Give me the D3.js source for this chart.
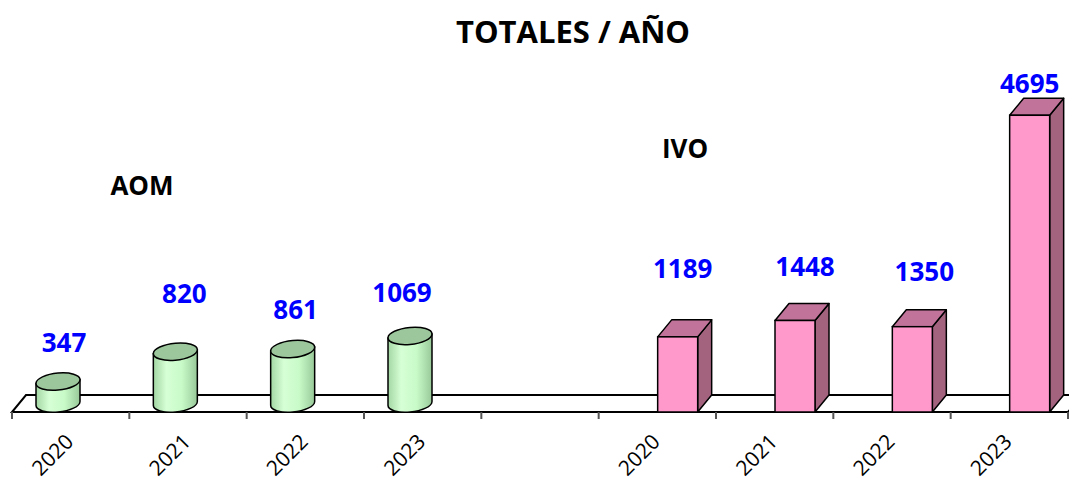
<!DOCTYPE html>
<html>
<head>
  <meta charset="utf-8">
  <script src="https://cdn.jsdelivr.net/npm/d3@7"></script>
  <style>
    body, html { margin: 0; padding: 0; background: white; overflow: hidden; }
    svg { display: block; font-family: 'Open Sans', sans-serif; }
  </style>
</head>
<body>
  <svg id="chart" width="1069" height="477"></svg>
  <script>
    // data
    const years = ["2020", "2021", "2022", "2023"];
    const aomValues = [347, 820, 861, 1069];
    const ivoValues = [1189, 1448, 1350, 4695];
    const groups = ["AOM", "IVO"];

    // label nudges (px), style only: [dx, lift above shape top]
    const aomLabelNudge = [[6, 21], [9, 40], [3, 22], [-8, 25]];
    const ivoLabelNudge = [[5, 42], [10, 27], [12, 29], [0, 5]];

    const svg = d3.select('#chart');
    const baseY = 412;
    const depthX = 14, depthY = -17;

    // 9 slots: 4 AOM, one empty, 4 IVO
    const slots = [];
    years.forEach((y, i) => slots.push({ key: "AOM" + y, year: y, group: "AOM", value: aomValues[i], nudge: aomLabelNudge[i] }));
    slots.push({ key: "gap", year: "", group: null });
    years.forEach((y, i) => slots.push({ key: "IVO" + y, year: y, group: "IVO", value: ivoValues[i], nudge: ivoLabelNudge[i] }));

    const x = d3.scaleBand().domain(slots.map(d => d.key)).range([12, 1068]).padding(0);
    const y = d3.scaleLinear().domain([0, 5000]).range([baseY, 96]);

    const defs = svg.append('defs');
    const grad = defs.append('linearGradient').attr('id', 'cyl').attr('x1', '0%').attr('x2', '100%');
    grad.append('stop').attr('offset', '0%').attr('stop-color', '#a3d6a3');
    grad.append('stop').attr('offset', '30%').attr('stop-color', '#d6ffd6');
    grad.append('stop').attr('offset', '65%').attr('stop-color', '#c8fac8');
    grad.append('stop').attr('offset', '100%').attr('stop-color', '#98c898');

    // title
    svg.append('text')
      .attr('x', 573).attr('y', 43)
      .attr('text-anchor', 'middle')
      .attr('font-size', 31).attr('font-weight', 'bold')
      .text('TOTALES / AÑO');

    // floor
    const x0 = x.range()[0], x1 = x.range()[1];
    svg.append('path')
      .attr('d', `M ${x0} ${baseY} L ${x1} ${baseY} L ${x1 + depthX} ${baseY + depthY} L ${x0 + depthX} ${baseY + depthY} Z`)
      .attr('fill', 'white').attr('stroke', 'black').attr('stroke-width', 2);

    // ticks at band boundaries
    const bounds = slots.map(d => x(d.key)).concat([x1]);
    svg.selectAll('.tick').data(bounds).join('line')
      .attr('class', 'tick')
      .attr('x1', d => d).attr('x2', d => d)
      .attr('y1', baseY).attr('y2', baseY + 7)
      .attr('stroke', '#555').attr('stroke-width', 2);

    // tick labels
    svg.selectAll('.xlabel').data(slots.filter(d => d.year)).join('text')
      .attr('class', 'xlabel')
      .attr('transform', d => `translate(${x(d.key) + x.bandwidth() / 2 + 4}, 443) rotate(-45)`)
      .attr('text-anchor', 'end')
      .attr('font-size', 21)
      .text(d => d.year);

    // AOM cylinders
    const rx = 22, ry = 8.5;
    const aom = slots.filter(d => d.group === "AOM");
    const cyl = svg.selectAll('.cyl').data(aom).join('g')
      .attr('class', 'cyl')
      .attr('transform', d => `translate(${x(d.key) + 24 + rx}, 0) skewY(-5)`);
    cyl.append('path')
      .attr('d', d => {
        const yt = y(d.value) - ry, yb = baseY - ry;
        return `M ${-rx} ${yt} L ${-rx} ${yb} A ${rx} ${ry} 0 0 0 ${rx} ${yb} L ${rx} ${yt} Z`;
      })
      .attr('fill', 'url(#cyl)').attr('stroke', 'black').attr('stroke-width', 1.5);
    cyl.append('ellipse')
      .attr('cx', 0).attr('cy', d => y(d.value) - ry)
      .attr('rx', rx).attr('ry', ry)
      .attr('fill', '#9cc79c').attr('stroke', 'black').attr('stroke-width', 1.5);

    // IVO 3D bars
    const ivo = slots.filter(d => d.group === "IVO");
    const bw = 40;
    const bar = svg.selectAll('.bar3d').data(ivo).join('g').attr('class', 'bar3d');
    bar.append('path') // side
      .attr('d', d => {
        const bx = x(d.key) + 59 + bw, ty = y(d.value);
        return `M ${bx} ${baseY} L ${bx + depthX} ${baseY + depthY} L ${bx + depthX} ${ty + depthY} L ${bx} ${ty} Z`;
      })
      .attr('fill', '#a3637f').attr('stroke', 'black').attr('stroke-width', 1.5).attr('stroke-linejoin', 'round');
    bar.append('path') // top
      .attr('d', d => {
        const bx = x(d.key) + 59, ty = y(d.value);
        return `M ${bx} ${ty} L ${bx + depthX} ${ty + depthY} L ${bx + bw + depthX} ${ty + depthY} L ${bx + bw} ${ty} Z`;
      })
      .attr('fill', '#c1739a').attr('stroke', 'black').attr('stroke-width', 1.5).attr('stroke-linejoin', 'round');
    bar.append('rect') // front
      .attr('x', d => x(d.key) + 59).attr('y', d => y(d.value))
      .attr('width', bw).attr('height', d => baseY - y(d.value))
      .attr('fill', '#ff99cc').attr('stroke', 'black').attr('stroke-width', 1.5);

    // value labels
    svg.selectAll('.vlabel').data(aom.concat(ivo)).join('text')
      .attr('class', 'vlabel')
      .attr('x', d => d.group === "AOM" ? x(d.key) + 24 + rx + d.nudge[0] : x(d.key) + 59 + bw / 2 + d.nudge[0])
      .attr('y', d => d.group === "AOM" ? y(d.value) - 2 * ry - d.nudge[1] : y(d.value) + depthY - d.nudge[1])
      .attr('text-anchor', 'middle')
      .attr('font-size', 26).attr('font-weight', 'bold')
      .attr('fill', '#0000ff')
      .text(d => d.value);

    // group labels
    svg.append('text').attr('x', 142).attr('y', 195).attr('text-anchor', 'middle')
      .attr('font-size', 26).attr('font-weight', 'bold').text(groups[0]);
    svg.append('text').attr('x', 685).attr('y', 158).attr('text-anchor', 'middle')
      .attr('font-size', 26).attr('font-weight', 'bold').text(groups[1]);
  </script>
</body>
</html>
